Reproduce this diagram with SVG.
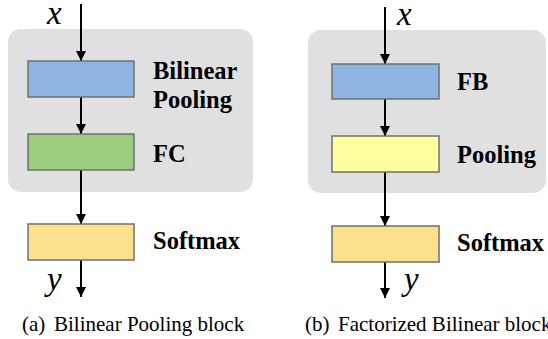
<svg xmlns="http://www.w3.org/2000/svg" width="548" height="339" viewBox="0 0 548 339">
<defs>
<marker id="ah" viewBox="0 0 10 10" refX="10" refY="5" markerWidth="5" markerHeight="5" markerUnits="strokeWidth" orient="auto">
<path d="M0,0 L10,5 L0,10 Z" fill="#000"/>
</marker>
<style>
.bg{fill:#e0e0e0;}
.box{stroke:#707070;stroke-width:1.5;}
.lbl{font-weight:bold;font-size:24.5px;fill:#000;}
.var{font-style:italic;font-size:33px;fill:#000;}
.cap{font-size:21px;fill:#000;}
.arr{stroke:#000;stroke-width:2;fill:none;marker-end:url(#ah);}
</style>
</defs>
<rect width="548" height="339" fill="#fff"/>
<rect class="bg" x="8" y="29" width="245" height="163" rx="13"/>
<rect class="bg" x="308" y="30" width="238" height="163" rx="13"/>
<g id="connectors">
<line class="arr" x1="81" y1="4" x2="81" y2="61"/>
<line class="arr" x1="81" y1="97" x2="81" y2="134"/>
<line class="arr" x1="81" y1="170" x2="81" y2="224"/>
<line class="arr" x1="81" y1="260" x2="81" y2="297"/>
<line class="arr" x1="385" y1="7" x2="385" y2="64"/>
<line class="arr" x1="385" y1="99" x2="385" y2="136"/>
<line class="arr" x1="385" y1="172" x2="385" y2="226"/>
<line class="arr" x1="385" y1="262" x2="385" y2="298"/>
</g>
<g font-family="Liberation Serif, serif">
<g id="a-bilinear"><rect class="box" x="28" y="61" width="106" height="36" fill="#8db4e2"/><text class="lbl" x="153" y="79">Bilinear</text><text class="lbl" x="153" y="108">Pooling</text></g>
<g id="a-fc"><rect class="box" x="28" y="134" width="106" height="36" fill="#9bcd7c"/><text class="lbl" x="153" y="162">FC</text></g>
<g id="a-softmax"><rect class="box" x="28" y="224" width="106" height="36" fill="#fde08b"/><text class="lbl" x="153" y="249">Softmax</text></g>
<g id="b-fb"><rect class="box" x="332" y="64" width="107" height="35" fill="#8db4e2"/><text class="lbl" x="457" y="90">FB</text></g>
<g id="b-pooling"><rect class="box" x="332" y="136" width="107" height="36" fill="#ffff9f"/><text class="lbl" x="457" y="163">Pooling</text></g>
<g id="b-softmax"><rect class="box" x="332" y="226" width="107" height="36" fill="#fde08b"/><text class="lbl" x="457" y="251">Softmax</text></g>
<text class="var" x="47" y="24">x</text>
<text class="var" x="47" y="290">y</text>
<text class="var" x="397" y="25">x</text>
<text class="var" x="404" y="290">y</text>
<text class="cap" y="331"><tspan x="22">(a)</tspan><tspan x="54">Bilinear Pooling block</tspan></text>
<text class="cap" y="331"><tspan x="305">(b)</tspan><tspan x="338">Factorized Bilinear block</tspan></text>
</g>
</svg>
